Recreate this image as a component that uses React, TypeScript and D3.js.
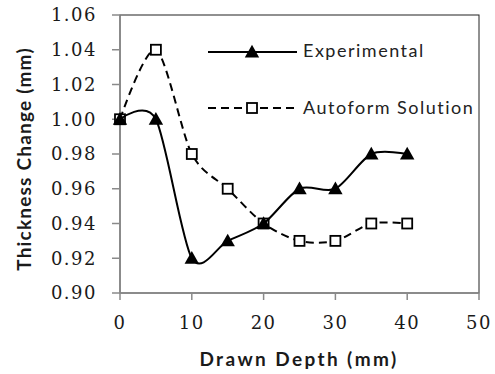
import * as d3 from "d3";

const depth = [0, 5, 10, 15, 20, 25, 30, 35, 40];
const experimental = [1.0, 1.0, 0.92, 0.93, 0.94, 0.96, 0.96, 0.98, 0.98];
const autoform = [1.0, 1.04, 0.98, 0.96, 0.94, 0.93, 0.93, 0.94, 0.94];
const xTicks = [0, 10, 20, 30, 40, 50];
const yTicks = [0.9, 0.92, 0.94, 0.96, 0.98, 1.0, 1.02, 1.04, 1.06];
const seriesNames = ["Experimental", "Autoform Solution"];

const width = 495;
const height = 374;
const margin = { top: 15, right: 16, bottom: 81, left: 120 };

const serif = "'DejaVu Serif', serif";
const sans = "Lato, 'Open Sans', sans-serif";

// little triangle marker path centred on 0,0
const triangle = (s: number) => `M0,${-s * 0.6}L${s * 0.6},${s * 0.45}L${-s * 0.6},${s * 0.45}Z`;

export default function App() {
  const x = d3
    .scaleLinear()
    .domain([0, 50])
    .range([margin.left, width - margin.right]);
  const y = d3
    .scaleLinear()
    .domain([0.9, 1.06])
    .range([height - margin.bottom, margin.top]);

  const line = d3
    .line<number>()
    .x((_, i) => x(depth[i]))
    .y((d) => y(d))
    .curve(d3.curveCardinal.tension(0.15));

  const x0 = x(0);
  const x1 = x(50);
  const yBottom = y(0.9);
  const yTop = y(1.06);
  const axisColor = "#8a8a8a";
  const dash = "8,5";

  // legend
  const legX1 = 208;
  const legX2 = 297;
  const legMid = 252;
  const legY = [52, 108];

  return (
    <svg
      width={width}
      height={height}
      style={{ position: "fixed", left: 0, top: 0, background: "#fff" }}
    >
      {/* plot border */}
      <rect
        x={x0}
        y={yTop}
        width={x1 - x0}
        height={yBottom - yTop}
        fill="none"
        stroke="#222"
        strokeWidth={1}
      />

      {/* y axis */}
      <line x1={x0} x2={x0} y1={yTop} y2={yBottom} stroke={axisColor} strokeWidth={1.5} />
      {yTicks.map((t) => (
        <g key={t}>
          <line x1={x0 - 8} x2={x0} y1={y(t)} y2={y(t)} stroke={axisColor} strokeWidth={1.5} />
          <text
            x={97}
            y={y(t)}
            dy="0.36em"
            textAnchor="end"
            fontFamily={serif}
            fontSize={18}
            letterSpacing={1.5}
            fill="#1a1a1a"
          >
            {t.toFixed(2)}
          </text>
        </g>
      ))}

      {/* x axis */}
      <line x1={x0} x2={x1} y1={yBottom} y2={yBottom} stroke={axisColor} strokeWidth={1.5} />
      {xTicks.map((t) => (
        <g key={t}>
          <line x1={x(t)} x2={x(t)} y1={yBottom} y2={yBottom + 7} stroke={axisColor} strokeWidth={1.5} />
          <text
            x={x(t)}
            y={323}
            dy="0.36em"
            textAnchor="middle"
            fontFamily={serif}
            fontSize={18}
            letterSpacing={1.5}
            fill="#1a1a1a"
          >
            {t}
          </text>
        </g>
      ))}

      {/* axis titles */}
      <text
        x={299}
        y={366}
        textAnchor="middle"
        fontFamily={sans}
        fontWeight="bold"
        fontSize={19}
        letterSpacing={2.4}
        fill="#1a1a1a"
      >
        Drawn Depth (mm)
      </text>
      <text
        transform={`translate(31, 159) rotate(-90)`}
        textAnchor="middle"
        fontFamily={sans}
        fontWeight="bold"
        fontSize={19}
        letterSpacing={1.2}
        fill="#1a1a1a"
      >
        Thickness Change (mm)
      </text>

      {/* Autoform series */}
      <path
        d={line(autoform) ?? ""}
        fill="none"
        stroke="#000"
        strokeWidth={2}
        strokeDasharray={dash}
      />
      {autoform.map((v, i) => (
        <rect
          key={i}
          x={x(depth[i]) - 5}
          y={y(v) - 5}
          width={10}
          height={10}
          fill="#fff"
          stroke="#000"
          strokeWidth={1.8}
        />
      ))}

      {/* Experimental series */}
      <path d={line(experimental) ?? ""} fill="none" stroke="#000" strokeWidth={2} />
      {experimental.map((v, i) => (
        <path
          key={i}
          d={triangle(12)}
          transform={`translate(${x(depth[i])},${y(v)})`}
          fill="#000"
        />
      ))}

      {/* legend */}
      <line x1={legX1} x2={legX2} y1={legY[0]} y2={legY[0]} stroke="#000" strokeWidth={2} />
      <path d={triangle(12)} transform={`translate(${legMid},${legY[0]})`} fill="#000" />
      <text x={303} y={57} fontFamily={sans} fontSize={18} letterSpacing={1.5} fill="#222">
        {seriesNames[0]}
      </text>
      <line
        x1={legX1}
        x2={legX2}
        y1={legY[1]}
        y2={legY[1]}
        stroke="#000"
        strokeWidth={2}
        strokeDasharray={dash}
      />
      <rect
        x={legMid - 5}
        y={legY[1] - 5}
        width={10}
        height={10}
        fill="#fff"
        stroke="#000"
        strokeWidth={1.8}
      />
      <text x={303} y={114} fontFamily={sans} fontSize={18} letterSpacing={1.5} fill="#222">
        {seriesNames[1]}
      </text>
    </svg>
  );
}
